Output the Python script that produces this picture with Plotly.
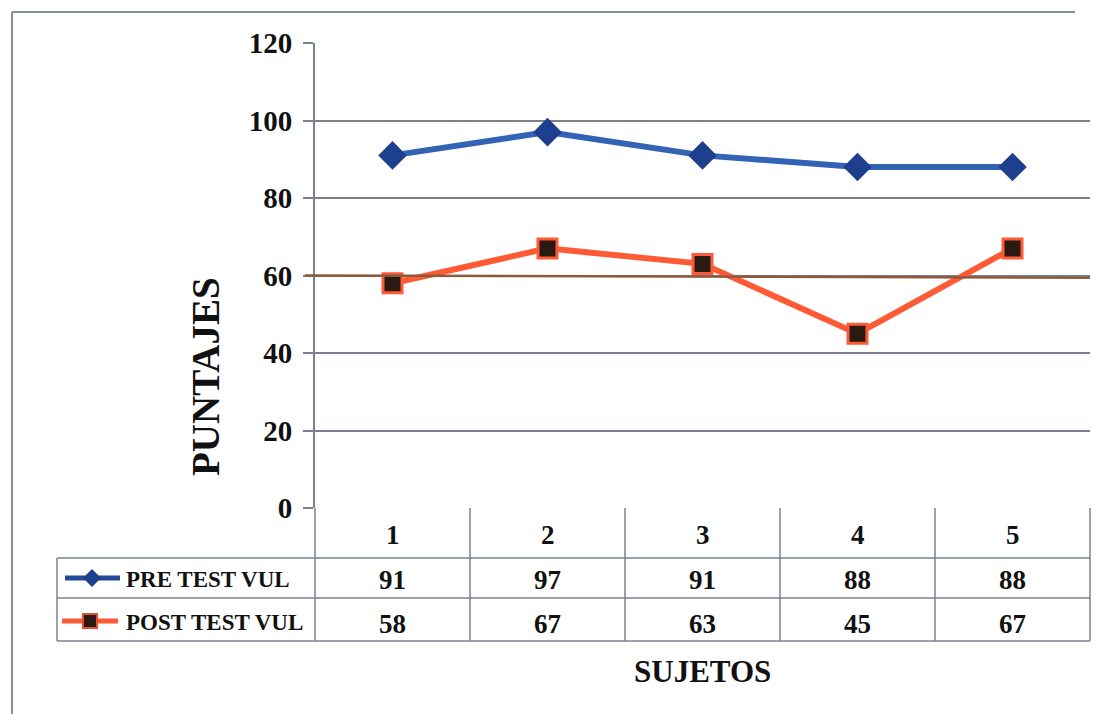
import plotly.graph_objects as go

sujetos = ["1", "2", "3", "4", "5"]
pre_test = [91, 97, 91, 88, 88]
post_test = [58, 67, 63, 45, 67]
series_names = ["PRE TEST VUL", "POST TEST VUL"]
reference_value = 60
y_ticks = [0, 20, 40, 60, 80, 100, 120]

W, H = 1103, 714
FONT = "Liberation Serif"
GRID = "#7c8192"

def px(x):
    return x / W

def py(y):
    return 1 - y / H

x_left, x_right = 315, 1090
y_top, y_zero = 43, 508

fig = go.Figure()
xs = list(range(1, len(sujetos) + 1))
fig.add_trace(go.Scatter(
    x=xs, y=pre_test, mode="lines+markers", name=series_names[0],
    line=dict(color="#3263b5", width=6),
    marker=dict(symbol="diamond", size=22, color="#1e3f8e"),
))
fig.add_trace(go.Scatter(
    x=xs, y=post_test, mode="lines+markers", name=series_names[1],
    line=dict(color="#ff5a36", width=6),
    marker=dict(symbol="square", size=19, color="#2a1a12",
                line=dict(color="#ff5a36", width=3)),
))

fig.update_layout(
    width=W, height=H,
    autosize=False,
    margin=dict(l=0, r=0, t=0, b=0, pad=0, autoexpand=False),
    paper_bgcolor="white", plot_bgcolor="white",
    showlegend=False,
    xaxis=dict(domain=[px(x_left), px(x_right)], range=[0.5, len(sujetos) + 0.5],
               showgrid=False, showticklabels=False, zeroline=False, showline=False,
               fixedrange=True, automargin=False),
    yaxis=dict(domain=[py(y_zero), py(y_top)], range=[0, 120], tickvals=y_ticks,
               ticktext=[f"<b>{v}</b>" for v in y_ticks],
               showgrid=True, gridcolor=GRID, gridwidth=1.5, zeroline=False,
               showline=True, linecolor=GRID, linewidth=2,
               ticks="outside", ticklen=10, tickcolor=GRID, tickwidth=1.5,
               tickfont=dict(family=FONT, size=29, color="#111111"),
               ticklabelstandoff=5, automargin=False, fixedrange=True),
)

shapes = []
# reference line at 60
shapes.append(dict(type="line", xref="paper", yref="y", x0=px(305), x1=px(x_right),
                   y0=reference_value, y1=reference_value - 0.6,
                   line=dict(color="#8c5a3c", width=2.5)))

# outer frame
shapes.append(dict(type="line", xref="paper", yref="paper", x0=px(12), x1=px(12),
                   y0=py(12), y1=py(714), line=dict(color="#8a8d9a", width=2)))
shapes.append(dict(type="line", xref="paper", yref="paper", x0=px(12), x1=px(1075),
                   y0=py(12), y1=py(12), line=dict(color="#8a8d9a", width=2)))

# data table
col_w = (x_right - x_left) / len(sujetos)
row_lines = [558, 598, 641]
for yy in row_lines:
    shapes.append(dict(type="line", xref="paper", yref="paper", x0=px(57), x1=px(x_right),
                       y0=py(yy), y1=py(yy), line=dict(color=GRID, width=1.5)))
for i in range(len(sujetos) + 1):
    xx = x_left + i * col_w
    shapes.append(dict(type="line", xref="paper", yref="paper", x0=px(xx), x1=px(xx),
                       y0=py(y_zero), y1=py(641), line=dict(color=GRID, width=1.5)))
shapes.append(dict(type="line", xref="paper", yref="paper", x0=px(57), x1=px(57),
                   y0=py(558), y1=py(641), line=dict(color=GRID, width=1.5)))

# legend keys inside table
shapes.append(dict(type="line", xref="paper", yref="paper", x0=px(65), x1=px(120),
                   y0=py(578), y1=py(578), line=dict(color="#23499a", width=5)))
shapes.append(dict(type="path", xref="paper", yref="paper",
                   path=f"M {px(92)} {py(569)} L {px(101)} {py(578)} L {px(92)} {py(587)} L {px(83)} {py(578)} Z",
                   fillcolor="#1e3f8e", line=dict(width=0)))
shapes.append(dict(type="line", xref="paper", yref="paper", x0=px(62), x1=px(118),
                   y0=py(621), y1=py(621), line=dict(color="#ff5a36", width=5)))
shapes.append(dict(type="rect", xref="paper", yref="paper", x0=px(83), x1=px(97),
                   y0=py(614), y1=py(628), fillcolor="#2a1a12",
                   line=dict(color="#e2502e", width=2)))

fig.update_layout(shapes=shapes)

ann = []
tfont = dict(family=FONT, size=27, color="#111111")

def add_text(x, y, text, font, xanchor="center", angle=0):
    ann.append(dict(x=px(x), y=py(y), xref="paper", yref="paper", text=text,
                    showarrow=False, xanchor=xanchor, yanchor="middle",
                    textangle=angle, font=font))

for i, s in enumerate(sujetos):
    cx = x_left + (i + 0.5) * col_w
    add_text(cx, 535, f"<b>{s}</b>", tfont)
    add_text(cx, 580, f"<b>{pre_test[i]}</b>", tfont)
    add_text(cx, 624, f"<b>{post_test[i]}</b>", tfont)
lfont = dict(family=FONT, size=23, color="#111111")
add_text(124, 579, f"<b>{series_names[0]}</b>", lfont, xanchor="left")
add_text(124, 622, f"<b>{series_names[1]}</b>", lfont, xanchor="left")
add_text(702, 671, "<b>SUJETOS</b>", dict(family=FONT, size=31, color="#111111"))
add_text(205, 377, "<b>PUNTAJES</b>", dict(family=FONT, size=39, color="#111111"), angle=-90)
fig.update_layout(annotations=ann)

fig.write_html("out.html", config={"displayModeBar": False},
               post_script="document.body.style.margin='0';document.body.style.overflow='hidden';")
